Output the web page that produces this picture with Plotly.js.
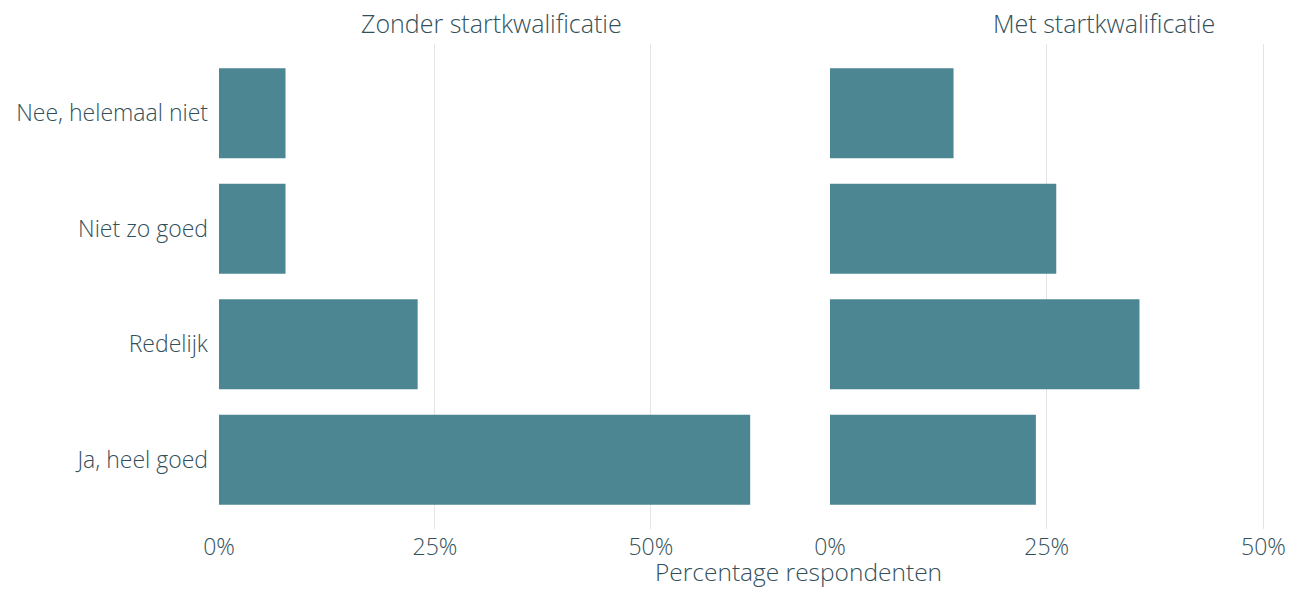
<!DOCTYPE html>
<html>
<head>
<meta charset="utf-8">
<script src="https://cdn.plot.ly/plotly-3.0.1.min.js"></script>
<style>
html, body { margin: 0; padding: 0; overflow: hidden; background: #fff; width: 1290px; height: 589px; }
#chart { width: 1400px; height: 589px; }
</style>
</head>
<body>
<div id="chart"></div>
<script>
const categories = ["Nee, helemaal niet", "Niet zo goed", "Redelijk", "Ja, heel goed"];
const zonderValues = [0.077, 0.077, 0.230, 0.615];
const metValues = [0.1425, 0.261, 0.357, 0.2375];
const panelTitles = ["Zonder startkwalificatie", "Met startkwalificatie"];
const xTickVals = [0, 0.25, 0.5];
const axisTitle = "Percentage respondenten";

const barColor = "#4b8692";
const textColor = "#33505a";
const gridColor = "#e4e4e4";
const fontFamily = "'Open Sans', Lato, sans-serif";
const fontWeight = 300;

const traces = [
  { type: "bar", orientation: "h", y: categories, x: zonderValues, xaxis: "x", yaxis: "y",
    marker: { color: barColor, line: { width: 0 } }, width: 0.78, hoverinfo: "x+y" },
  { type: "bar", orientation: "h", y: categories, x: metValues, xaxis: "x2", yaxis: "y2",
    marker: { color: barColor, line: { width: 0 } }, width: 0.78, hoverinfo: "x+y" }
];

const W = 1400, L = 219, R = 23;
const plotW = W - L - R;
const leftEnd = (764 - L) / plotW;
const rightStart = (830 - L) / plotW;
const xRange = [0, 0.631];

const tf = { family: fontFamily, size: 23, color: textColor, weight: fontWeight };
const titleFont = { family: fontFamily, size: 25, color: textColor, weight: fontWeight };
const axisTitleFont = { family: fontFamily, size: 24.5, color: textColor, weight: fontWeight };

const xaxisCommon = {
  range: xRange, tickvals: xTickVals, tickformat: ".0%",
  showgrid: true, gridcolor: gridColor, gridwidth: 1, zeroline: false,
  showline: false, ticks: "", ticklabelstandoff: 2,
  tickfont: tf, fixedrange: true
};
const yaxisCommon = {
  type: "category", categoryorder: "array", categoryarray: categories,
  range: [3.6, -0.6], showgrid: false, zeroline: false, showline: false, ticks: "",
  tickfont: tf, fixedrange: true
};

const layout = {
  width: W, height: 589,
  margin: { l: L, r: R, t: 44, b: 60 },
  paper_bgcolor: "#ffffff", plot_bgcolor: "#ffffff",
  showlegend: false, bargap: 0.22,
  font: { family: fontFamily, color: textColor },
  xaxis: Object.assign({}, xaxisCommon, { domain: [0, leftEnd], anchor: "y" }),
  xaxis2: Object.assign({}, xaxisCommon, { domain: [rightStart, 1], anchor: "y2" }),
  yaxis: Object.assign({}, yaxisCommon, { anchor: "x", ticklabelstandoff: 10 }),
  yaxis2: Object.assign({}, yaxisCommon, { anchor: "x2", showticklabels: false }),
  annotations: [
    { text: panelTitles[0], xref: "paper", yref: "paper", x: leftEnd / 2, y: 1,
      xanchor: "center", yanchor: "middle", yshift: 21, showarrow: false, font: titleFont },
    { text: panelTitles[1], xref: "paper", yref: "paper", x: (rightStart + 1) / 2, y: 1,
      xanchor: "center", yanchor: "middle", yshift: 21, showarrow: false, font: titleFont },
    { text: axisTitle, xref: "paper", yref: "paper", x: 0.5, y: 0,
      xanchor: "center", yanchor: "bottom", yshift: -61, showarrow: false, font: axisTitleFont }
  ]
};

Plotly.newPlot("chart", traces, layout, { displayModeBar: false, staticPlot: true });
</script>
</body>
</html>
